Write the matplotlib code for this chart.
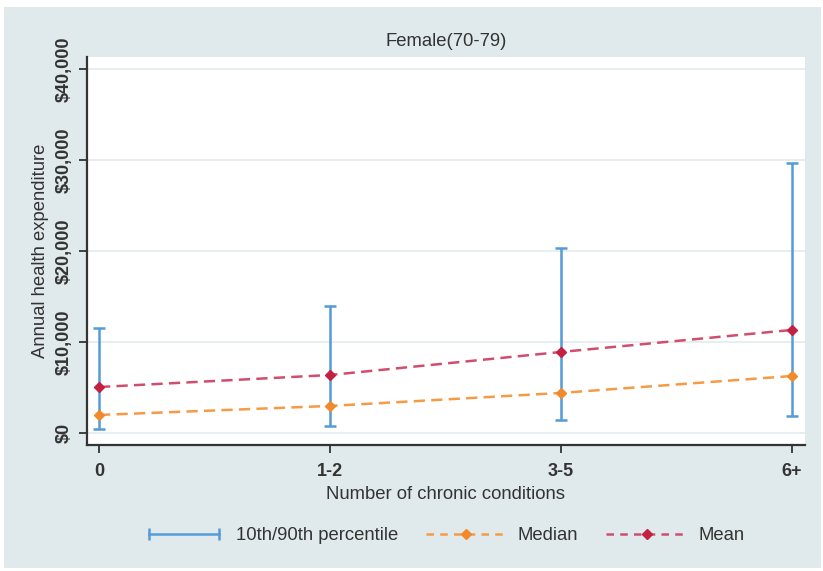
import matplotlib
matplotlib.use("Agg")
import matplotlib.pyplot as plt
from matplotlib.lines import Line2D
from matplotlib.legend_handler import HandlerLine2D
from matplotlib.patches import Rectangle
import numpy as np

plt.rcParams['font.family'] = ['Liberation Sans', 'DejaVu Sans']

categories = ["0", "1-2", "3-5", "6+"]
p10 = [440, 770, 1430, 1870]
p90 = [11540, 13960, 20330, 29670]
median = [1980, 2970, 4400, 6260]
mean = [5050, 6370, 8900, 11320]
yticks = [0, 10000, 20000, 30000, 40000]
ytick_labels = ["$0", "$10,000", "$20,000", "$30,000", "$40,000"]

BG = "#e0e9eb"
BLUE = "#549bd8"
ORANGE = "#f69a45"
ORANGE_M = "#f08a2c"
RED = "#d04d6e"
RED_M = "#c42142"
TXT = "#333333"

fig = plt.figure(figsize=(8.23, 5.71), dpi=100)
fig.patch.set_facecolor("white")
fig.add_artist(Rectangle((4/823, 1-568/571), (821-4)/823, (568-7)/571,
                         transform=fig.transFigure, facecolor=BG, edgecolor="none", zorder=-10))

ax = fig.add_axes([87/823, 1-445/571, (805-87)/823, (445-57)/571])
ax.set_facecolor("white")

x = np.arange(len(categories))

ax.set_ylim(-1320, 41300)
ax.set_xlim(-0.052, 3.056)
ax.set_yticks(yticks)
ax.set_yticklabels(ytick_labels, rotation=90, va="center", fontweight="bold", fontsize=13, color=TXT)
ax.set_xticks(x)
ax.set_xticklabels(categories, fontweight="bold", fontsize=13, color=TXT)
ax.yaxis.grid(True, color="#e3ebed", linewidth=1.2)
ax.set_axisbelow(True)
for s in ["top", "right"]:
    ax.spines[s].set_visible(False)
for s in ["left", "bottom"]:
    ax.spines[s].set_color("#333333")
    ax.spines[s].set_linewidth(1.6)
ax.tick_params(axis="both", direction="out", length=6, width=1.3, color="#333333", pad=4)
ax.tick_params(axis="x", pad=7)

yerr = [np.array(median) - np.array(p10),
        np.array(p90) - np.array(median)]
ax.errorbar(x, median, yerr=yerr, fmt="none", ecolor=BLUE, elinewidth=1.8,
            capsize=4, capthick=1.8, zorder=2)
ax.plot(x, median, color=ORANGE, linestyle=(0, (4.5, 2.5)), linewidth=1.8,
        marker="D", markersize=5.5, markerfacecolor=ORANGE_M, markeredgecolor=ORANGE_M, zorder=3)
ax.plot(x, mean, color=RED, linestyle=(0, (4.5, 2.5)), linewidth=1.8,
        marker="D", markersize=5.5, markerfacecolor=RED_M, markeredgecolor=RED_M, zorder=3)

ax.set_title("Female(70-79)", fontsize=13.3, color=TXT, pad=8)
ax.set_xlabel("Number of chronic conditions", fontsize=13.3, color=TXT, labelpad=4)
ax.set_ylabel("Annual health expenditure", fontsize=13.3, color=TXT, labelpad=5)

h_err = Line2D([], [], color=BLUE, linewidth=1.8, marker="|", markersize=9, markeredgewidth=1.8)
h_med = Line2D([], [], color=ORANGE, linestyle=(0, (3, 2.5)), linewidth=1.8, marker="D",
               markersize=5.5, markerfacecolor=ORANGE_M, markeredgecolor=ORANGE_M)
h_mean = Line2D([], [], color=RED, linestyle=(0, (3, 2.5)), linewidth=1.8, marker="D",
                markersize=5.5, markerfacecolor=RED_M, markeredgecolor=RED_M)
leg = fig.legend([h_err, h_med, h_mean], ["10th/90th percentile", "Median", "Mean"],
                 loc="center", bbox_to_anchor=(444/823, 1-536/571), ncol=3, frameon=False,
                 fontsize=13.3, handlelength=4.4, columnspacing=1.5, handletextpad=0.6,
                 handler_map={h_err: HandlerLine2D(numpoints=2)})
for t in leg.get_texts():
    t.set_color(TXT)

fig.savefig("out.png", dpi=100, facecolor=fig.get_facecolor())
